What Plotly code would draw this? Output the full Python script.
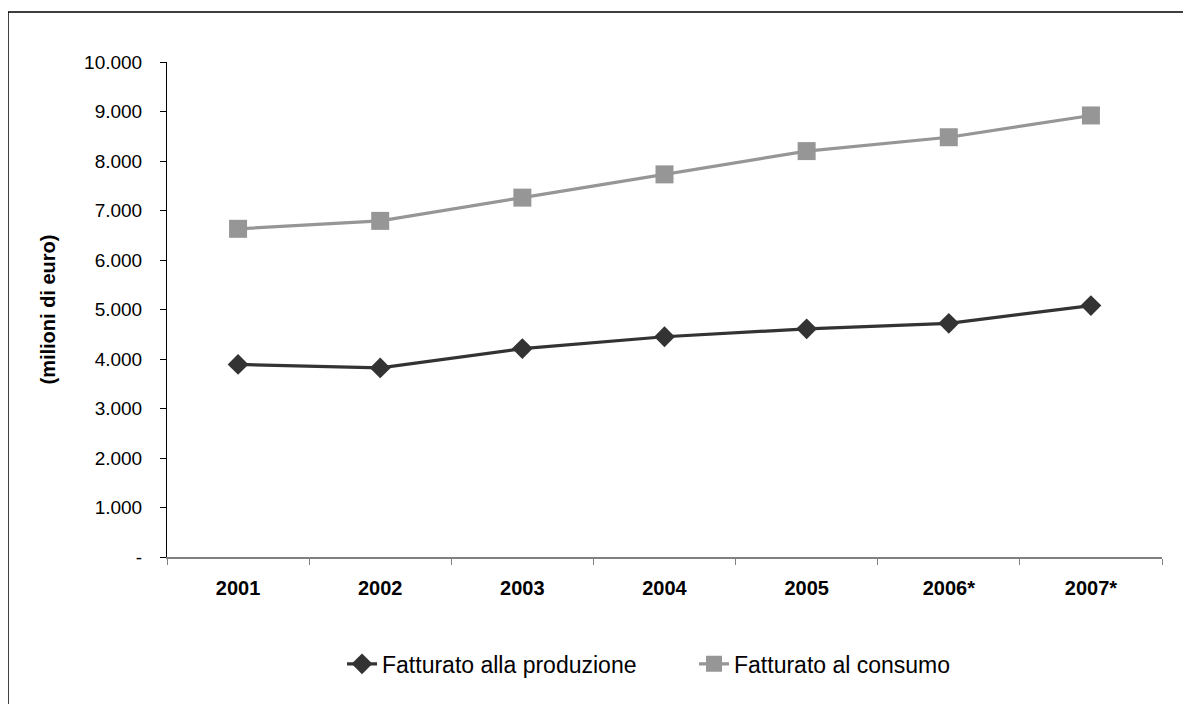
import plotly.graph_objects as go

years = ["2001", "2002", "2003", "2004", "2005", "2006*", "2007*"]
produzione = [3890, 3820, 4210, 4450, 4610, 4720, 5080]
consumo = [6630, 6790, 7260, 7730, 8200, 8480, 8920]
y_tickvals = [0, 1000, 2000, 3000, 4000, 5000, 6000, 7000, 8000, 9000, 10000]
y_ticktext = ["-", "1.000", "2.000", "3.000", "4.000", "5.000", "6.000", "7.000", "8.000", "9.000", "10.000"]

FONT = "Liberation Sans, Arial, sans-serif"

fig = go.Figure()
fig.add_trace(go.Scatter(
    x=years, y=produzione, name="Fatturato alla produzione", mode="lines+markers",
    line=dict(color="#333333", width=3.2),
    marker=dict(symbol="diamond", size=16, color="#333333"),
))
fig.add_trace(go.Scatter(
    x=years, y=consumo, name="Fatturato al consumo", mode="lines+markers",
    line=dict(color="#969696", width=3.2),
    marker=dict(symbol="square", size=18, color="#969696"),
))

fig.update_layout(
    width=1183, height=696,
    margin=dict(l=159, r=29, t=54, b=147),
    paper_bgcolor="white", plot_bgcolor="white",
    font=dict(family=FONT, color="black", size=19),
    showlegend=True,
    legend=dict(orientation="h", x=0.1759, xanchor="left", y=-0.216, yanchor="middle",
                font=dict(size=23, family=FONT), tracegroupgap=0,
                entrywidth=307, entrywidthmode="pixels",
                bgcolor="rgba(0,0,0,0)"),
    xaxis=dict(
        type="category", tickson="boundaries", ticks="outside", ticklen=6,
        tickcolor="#808080", showline=True, linecolor="#808080", linewidth=2,
        showgrid=False, zeroline=False, ticklabelstandoff=12,
        tickfont=dict(size=20, family=FONT, color="black", weight="bold"),
        range=[-0.5, 6.5],
    ),
    yaxis=dict(
        range=[0, 10000], tickvals=y_tickvals, ticktext=y_ticktext,
        ticks="outside", ticklen=6, tickcolor="black",
        showline=True, linecolor="black", linewidth=1,
        showgrid=False, zeroline=False, ticklabelstandoff=14,
        tickfont=dict(size=19, family=FONT, color="black"),
    ),
    annotations=[dict(text="<b>(milioni di euro)</b>", xref="paper", yref="paper",
                      x=-0.1206, y=0.5, xanchor="center", yanchor="middle",
                      textangle=-90, showarrow=False,
                      font=dict(size=20, family=FONT, color="black"))],
    shapes=[dict(type="rect", xref="paper", yref="paper",
                 x0=-0.1598, x1=1.0271, y0=-0.4, y1=1.101,
                 line=dict(color="black", width=1.5), fillcolor="rgba(0,0,0,0)", layer="below")],
)

fig.write_html("out.html")
